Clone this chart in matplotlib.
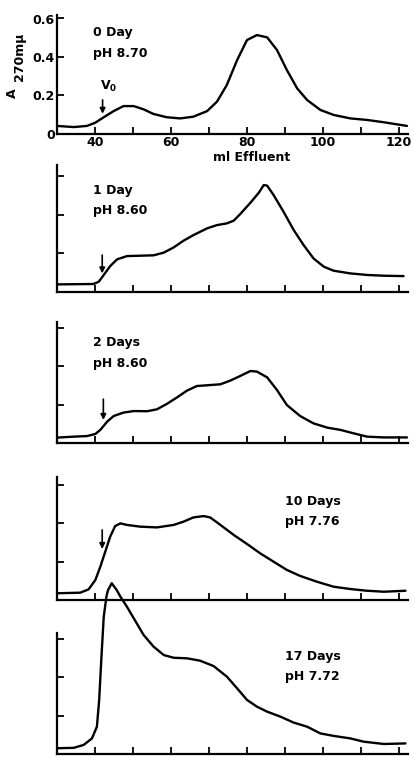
import matplotlib
matplotlib.use("Agg")
from matplotlib import pyplot as plt
from matplotlib.ticker import MultipleLocator, NullFormatter
import numpy as np

# ml effluent / A(270 mu)
ml_0day = [30.0, 34.4, 37.9, 40.1, 42.3, 44.9, 47.5, 50.2, 52.8, 55.4, 58.9, 62.4,
           65.9, 69.5, 72.1, 74.7, 77.4, 80.0, 82.6, 85.3, 87.9, 90.5, 93.2, 95.8,
           99.3, 102.8, 107.2, 111.6, 116.0, 122.1]
a_0day = [0.042, 0.036, 0.042, 0.059, 0.087, 0.119, 0.145, 0.145, 0.128, 0.104, 0.087,
          0.081, 0.090, 0.119, 0.168, 0.255, 0.384, 0.488, 0.514, 0.502, 0.436, 0.332,
          0.237, 0.177, 0.125, 0.099, 0.081, 0.073, 0.061, 0.042]

ml_1day = [30.0, 39.6, 41.0, 42.3, 44.0, 45.8, 48.4, 51.9, 55.4, 58.1, 60.7, 63.3,
           65.9, 69.5, 72.1, 74.7, 76.5, 78.2, 80.9, 83.1, 84.4, 85.3, 87.0, 89.6,
           92.3, 94.9, 97.5, 100.2, 102.8, 107.2, 111.6, 116.0, 121.2]
a_1day = [0.038, 0.040, 0.052, 0.087, 0.133, 0.168, 0.185, 0.187, 0.189, 0.203, 0.230,
          0.265, 0.294, 0.329, 0.346, 0.355, 0.369, 0.403, 0.462, 0.514, 0.554, 0.551,
          0.502, 0.416, 0.320, 0.242, 0.173, 0.130, 0.109, 0.095, 0.087, 0.083, 0.081]

ml_2day = [30.0, 34.4, 37.9, 40.1, 41.4, 43.2, 44.9, 47.5, 50.2, 53.7, 56.3, 58.9,
           61.6, 64.2, 66.8, 70.3, 73.0, 75.6, 78.2, 80.9, 82.6, 85.3, 87.9, 90.5,
           94.0, 97.5, 101.1, 104.6, 108.1, 111.6, 116.0, 122.1]
a_2day = [0.028, 0.033, 0.036, 0.047, 0.068, 0.111, 0.140, 0.158, 0.166, 0.165, 0.175,
          0.203, 0.237, 0.272, 0.296, 0.301, 0.305, 0.324, 0.348, 0.374, 0.371, 0.341,
          0.275, 0.197, 0.140, 0.102, 0.080, 0.068, 0.050, 0.033, 0.029, 0.029]

ml_10day = [30.0, 36.1, 38.3, 40.1, 41.4, 42.7, 44.0, 45.3, 46.7, 48.4, 51.9, 56.3,
            60.7, 63.3, 65.9, 68.6, 70.3, 73.0, 76.5, 80.0, 83.5, 87.0, 90.5, 94.0,
            98.4, 102.8, 107.2, 111.6, 116.0, 121.7]
a_10day = [0.035, 0.038, 0.055, 0.104, 0.173, 0.251, 0.329, 0.384, 0.398, 0.390, 0.381,
           0.377, 0.390, 0.407, 0.429, 0.436, 0.429, 0.390, 0.338, 0.291, 0.242, 0.199,
           0.156, 0.125, 0.095, 0.069, 0.057, 0.048, 0.043, 0.048]

ml_17day = [30.0, 34.4, 37.0, 39.2, 40.5, 41.1, 41.7, 42.3, 43.0, 43.4, 44.4, 45.7,
            46.7, 48.4, 50.2, 52.8, 55.4, 58.1, 60.7, 64.2, 67.6, 71.2, 74.7, 77.4,
            80.0, 82.6, 85.3, 88.8, 92.3, 95.8, 99.3, 102.8, 107.2, 110.7, 116.0, 121.7]
a_17day = [0.030, 0.032, 0.047, 0.081, 0.142, 0.281, 0.506, 0.713, 0.817, 0.850, 0.887,
           0.852, 0.817, 0.765, 0.705, 0.618, 0.558, 0.514, 0.500, 0.497, 0.485, 0.457,
           0.402, 0.341, 0.281, 0.246, 0.220, 0.194, 0.163, 0.142, 0.107, 0.094, 0.081,
           0.064, 0.052, 0.055]

days = ["0 Day", "1 Day", "2 Days", "10 Days", "17 Days"]
ph = ["pH 8.70", "pH 8.60", "pH 8.60", "pH 7.76", "pH 7.72"]
profiles = [(ml_0day, a_0day), (ml_1day, a_1day), (ml_2day, a_2day),
            (ml_10day, a_10day), (ml_17day, a_17day)]

# void-volume arrows: (ml, arrow top, arrow tip); None where not drawn
v0_arrows = [(42.0, 0.177, 0.105), (41.9, 0.19, 0.095), (42.2, 0.228, 0.12),
             (41.9, 0.364, 0.265), None]

# layout, in pixels of the 414x757 picture
W, H = 414, 757
left_px, width_px = 57, 351.5
axis_px = [134, 291.7, 443, 600, 754]
ytops = [0.62, 0.66, 0.63, 0.64, 0.63]
px_per_unit = 192.5
label_x = [39.5, 39.5, 39.5, 90.0, 90.0]
label_y = [0.525, 0.528, 0.52, 0.514, 0.508]

plt.rcParams["font.family"] = ["DejaVu Sans"]
plt.rcParams["font.weight"] = "bold"

fig = plt.figure(figsize=(W / 100, H / 100), dpi=100)

axes = []
for i, (ml, a) in enumerate(profiles):
    h_px = ytops[i] * px_per_unit
    ax = fig.add_axes([left_px / W, 1 - axis_px[i] / H, width_px / W, h_px / H])
    ax.set_facecolor("none")
    ax.set_xlim(30, 122.5)
    ax.set_ylim(0, ytops[i])
    ax.plot(ml, a, color="black", lw=1.7, solid_joinstyle="round",
            solid_capstyle="round", clip_on=False, zorder=3)

    for side in ("top", "right"):
        ax.spines[side].set_visible(False)
    for side in ("left", "bottom"):
        ax.spines[side].set_linewidth(1.6)

    ax.xaxis.set_major_locator(MultipleLocator(20))
    ax.xaxis.set_minor_locator(MultipleLocator(10))
    ax.yaxis.set_major_locator(MultipleLocator(0.2))
    ax.tick_params(axis="both", which="both", direction="in", length=5,
                   width=1.3, labelsize=9, pad=1.5)
    ax.tick_params(axis="x", which="major", length=5)

    if i == 0:
        ax.set_xticks(np.arange(40, 121, 20))
        ax.set_xticklabels([str(v) for v in range(40, 121, 20)])
        ax.set_yticks([0, 0.2, 0.4, 0.6])
        ax.set_yticklabels(["0", "0.2", "0.4", "0.6"])
        for lab in ax.get_xticklabels() + ax.get_yticklabels():
            lab.set_fontweight("bold")
        ax.set_xlabel("ml Effluent", fontsize=9, fontweight="bold")
        ax.xaxis.set_label_coords(0.555, -0.14)
    else:
        ax.set_xticks(np.arange(40, 121, 10))
        ax.set_yticks([0.2, 0.4, 0.6])
        ax.xaxis.set_major_formatter(NullFormatter())
        ax.yaxis.set_major_formatter(NullFormatter())

    ax.text(label_x[i], label_y[i], days[i], fontsize=9, fontweight="bold",
            va="center", ha="left")
    ax.text(label_x[i], label_y[i] - 0.105, ph[i], fontsize=9, fontweight="bold",
            va="center", ha="left")

    arr = v0_arrows[i]
    if arr is not None:
        x0, ytop, ytip = arr
        ax.annotate("", xy=(x0, ytip), xytext=(x0, ytop),
                    arrowprops=dict(arrowstyle="-|>", color="black", lw=1.2,
                                    mutation_scale=8, shrinkA=0, shrinkB=0))
    axes.append(ax)

axes[0].text(41.2, 0.245, "V$_\\mathbf{0}$", fontsize=9, fontweight="bold",
             ha="left", va="center")

# y-axis title, written as two rotated pieces like the original lettering
fig.text(12 / W, 1 - 93 / H, "A", rotation=90, fontsize=9, fontweight="bold",
         ha="center", va="center")
fig.text(20 / W, 1 - 57 / H, "270mμ", rotation=90, fontsize=9, fontweight="bold",
         ha="center", va="center")

fig.savefig("out.png", dpi=100)
